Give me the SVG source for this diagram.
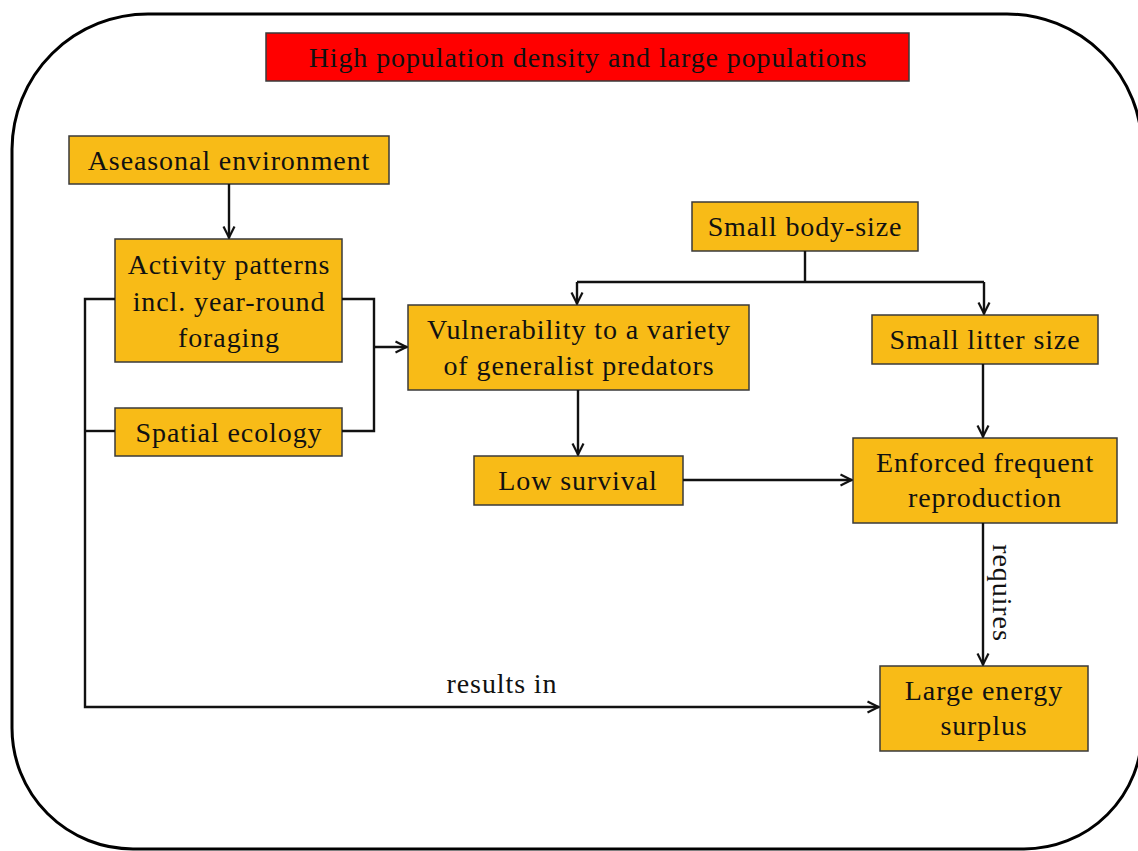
<svg xmlns="http://www.w3.org/2000/svg" width="1138" height="851" viewBox="0 0 1138 851">
<style>
.box{fill:#F8BB17;stroke:#3a3a3a;stroke-width:1.5}
.red{fill:#FF0000;stroke:#3a3a3a;stroke-width:1.5}
.t{font-family:"Liberation Serif","Times New Roman",serif;font-size:28px;letter-spacing:0.9px;fill:#111;text-anchor:middle}
.c{fill:none;stroke:#111;stroke-width:2.4}
.frame{fill:none;stroke:#000;stroke-width:3}
</style>
<defs>
<marker id="ah" viewBox="0 0 14 14" refX="13" refY="7" markerWidth="14" markerHeight="14" markerUnits="userSpaceOnUse" orient="auto">
<path d="M1.5,1.5 L12.5,7 L1.5,12.5" fill="none" stroke="#111" stroke-width="2.2"/>
</marker>
</defs>
<path class="frame" d="M148,14 H1007 A135,135 0 0 1 1142,149 V731 A118,118 0 0 1 1024,849 H133 A121,121 0 0 1 12,728 V149 A136,136 0 0 1 148,14 Z"/>
<g id="title"><rect class="red" x="266" y="33" width="643" height="48"/><text class="t" x="588" y="67">High population density and large populations</text></g>
<g id="aseasonal"><rect class="box" x="69" y="136" width="320" height="48"/><text class="t" x="229" y="170">Aseasonal environment</text></g>
<g id="activity"><rect class="box" x="115" y="239" width="227" height="123"/><text class="t" x="229" y="274">Activity patterns</text><text class="t" x="229" y="311">incl. year-round</text><text class="t" x="229" y="347">foraging</text></g>
<g id="spatial"><rect class="box" x="115" y="408" width="227" height="48"/><text class="t" x="229" y="442">Spatial ecology</text></g>
<g id="vulnerability"><rect class="box" x="408" y="305" width="341" height="85"/><text class="t" x="579" y="339">Vulnerability to a variety</text><text class="t" x="579" y="375">of generalist predators</text></g>
<g id="lowsurvival"><rect class="box" x="474" y="456" width="209" height="49"/><text class="t" x="578" y="490">Low survival</text></g>
<g id="bodysize"><rect class="box" x="692" y="202" width="226" height="49"/><text class="t" x="805" y="236">Small body-size</text></g>
<g id="litter"><rect class="box" x="872" y="315" width="226" height="49"/><text class="t" x="985" y="349">Small litter size</text></g>
<g id="enforced"><rect class="box" x="853" y="438" width="264" height="85"/><text class="t" x="985" y="472">Enforced frequent</text><text class="t" x="985" y="507">reproduction</text></g>
<g id="energy"><rect class="box" x="880" y="666" width="208" height="85"/><text class="t" x="984" y="700">Large energy</text><text class="t" x="984" y="735">surplus</text></g>
<g id="connectors">
<path class="c" d="M229,184 V238" marker-end="url(#ah)"/>
<path class="c" d="M115,299 H85 V707 H879" marker-end="url(#ah)"/>
<path class="c" d="M115,431 H85"/>
<path class="c" d="M342,299 H374 V431 H342"/>
<path class="c" d="M374,347 H407" marker-end="url(#ah)"/>
<path class="c" d="M805,251 V282"/>
<path class="c" d="M577,282 H984"/>
<path class="c" d="M577,282 V304" marker-end="url(#ah)"/>
<path class="c" d="M984,282 V314" marker-end="url(#ah)"/>
<path class="c" d="M578,390 V455" marker-end="url(#ah)"/>
<path class="c" d="M983,364 V437" marker-end="url(#ah)"/>
<path class="c" d="M683,480 H852" marker-end="url(#ah)"/>
<path class="c" d="M983,523 V665" marker-end="url(#ah)"/>
<text class="t" x="502" y="693">results in</text>
<text class="t" transform="translate(993,593) rotate(90)" x="0" y="0">requires</text>
</g>
</svg>
